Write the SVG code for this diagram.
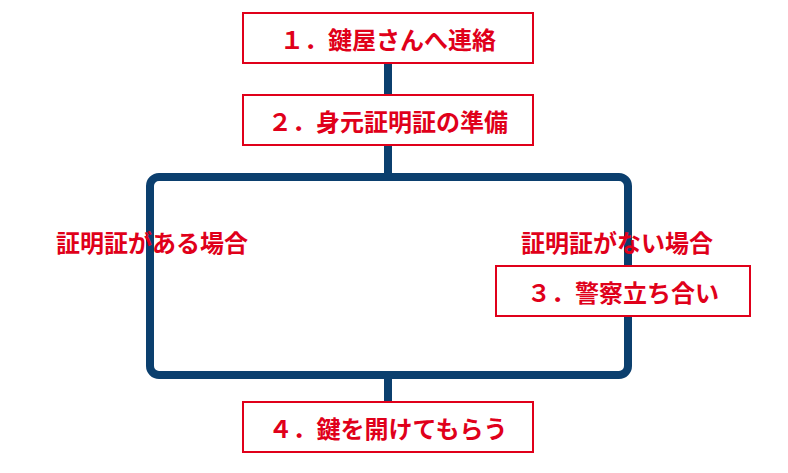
<svg xmlns="http://www.w3.org/2000/svg" width="788" height="473" viewBox="0 0 788 473">
<style>
.box{fill:#fff;stroke:#e0001a;stroke-width:2}
.t{font-family:"Noto Sans CJK JP",sans-serif;font-weight:bold;font-size:24px;fill:#e0001a;text-anchor:middle;dominant-baseline:central}
.c{fill:none;stroke:#0b3f6e;stroke-width:8}
</style>
<rect width="788" height="473" fill="#fff"/>
<g id="connectors">
<line class="c" x1="388" y1="63" x2="388" y2="95"/>
<line class="c" x1="388" y1="145" x2="388" y2="180"/>
<rect class="c" x="150" y="177" width="478" height="198" rx="9"/>
<line class="c" x1="388" y1="375" x2="388" y2="402"/>
</g>
<g id="n1"><rect class="box" x="243" y="13" width="290" height="50"/><text class="t" x="388" y="38">１．鍵屋さんへ連絡</text></g>
<g id="n2"><rect class="box" x="243" y="95" width="290" height="50"/><text class="t" x="388" y="120">２．身元証明証の準備</text></g>
<g id="l1"><text class="t" x="152" y="241">証明証がある場合</text></g>
<g id="l2"><text class="t" x="617" y="241">証明証がない場合</text></g>
<g id="n3"><rect class="box" x="496" y="266" width="254" height="50"/><text class="t" x="623" y="291">３．警察立ち合い</text></g>
<g id="n4"><rect class="box" x="243" y="402" width="290" height="50"/><text class="t" x="388" y="427">４．鍵を開けてもらう</text></g>
</svg>
